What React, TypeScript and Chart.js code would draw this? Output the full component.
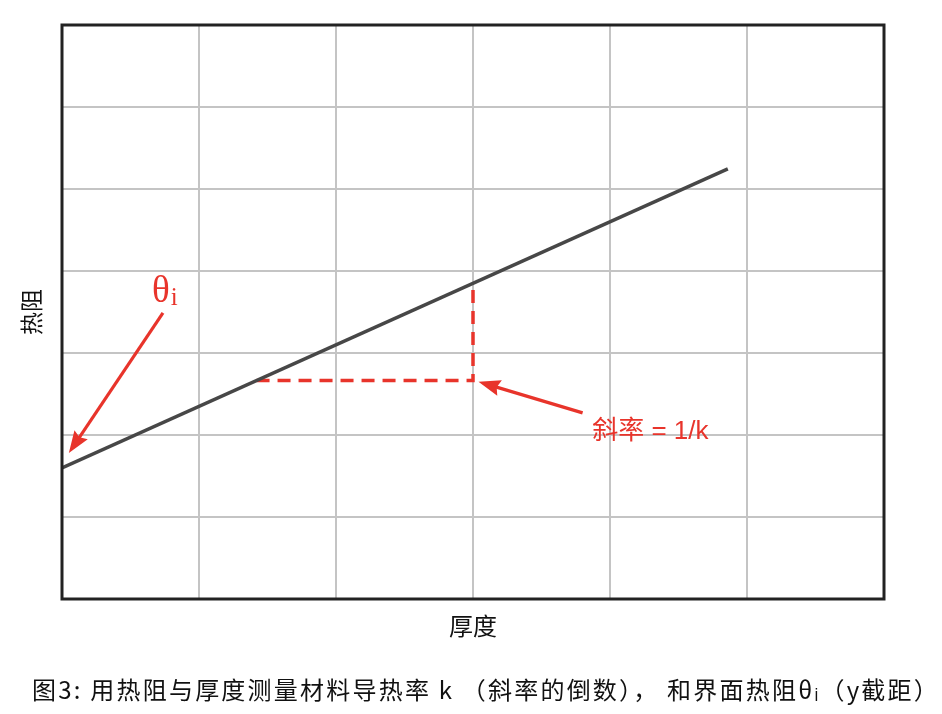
import React, { useEffect, useRef } from "react";
import { Chart, registerables } from "chart.js";

Chart.register(...registerables);

// Axis ranges (grid every 1 unit, no tick labels shown)
const X_MIN = 0, X_MAX = 6;
const Y_MIN = 0, Y_MAX = 7;

// Thermal resistance vs thickness line
const lineX = [0, 4.86];
const lineY = [1.6, 5.245];

// Slope triangle (dashed)
const slopeX = [1.42, 3, 3];
const slopeY = [2.665, 2.665, 3.85];

// Annotation arrows: [fromX, fromY, toX, toY]
const thetaArrow = [0.737, 3.49, 0.05, 1.78];
const slopeArrow = [3.8, 2.27, 3.04, 2.65];

// Annotation labels
const thetaLabelPos = [0.657, 3.62];
const slopeLabelPos = [3.87, 2.04];
const slopeLabel = "斜率 = 1/k";
const xTitle = "厚度";
const yTitle = "热阻";
const caption = "图3: 用热阻与厚度测量材料导热率 k （斜率的倒数）， 和界面热阻θᵢ（y截距）";

const RED = "#e8342b";

function arrow(ctx: CanvasRenderingContext2D, x1: number, y1: number, x2: number, y2: number) {
  const ang = Math.atan2(y2 - y1, x2 - x1);
  const headLen = 22;
  const headW = 8;
  const bx = x2 - headLen * Math.cos(ang);
  const by = y2 - headLen * Math.sin(ang);
  ctx.save();
  ctx.strokeStyle = RED;
  ctx.fillStyle = RED;
  ctx.lineWidth = 3.2;
  ctx.beginPath();
  ctx.moveTo(x1, y1);
  ctx.lineTo(bx + 4 * Math.cos(ang), by + 4 * Math.sin(ang));
  ctx.stroke();
  ctx.beginPath();
  ctx.moveTo(x2, y2);
  ctx.lineTo(bx + headW * Math.sin(ang), by - headW * Math.cos(ang));
  ctx.lineTo(bx + 3 * Math.cos(ang), by + 3 * Math.sin(ang));
  ctx.lineTo(bx - headW * Math.sin(ang), by + headW * Math.cos(ang));
  ctx.closePath();
  ctx.fill();
  ctx.restore();
}

const annotationPlugin = {
  id: "annotations",
  afterDatasetsDraw(chart: any) {
    const { ctx, chartArea, scales } = chart;
    const xs = scales.x, ys = scales.y;
    const px = (v: number) => xs.getPixelForValue(v);
    const py = (v: number) => ys.getPixelForValue(v);

    // frame
    ctx.save();
    ctx.strokeStyle = "#222222";
    ctx.lineWidth = 3;
    ctx.strokeRect(chartArea.left, chartArea.top, chartArea.right - chartArea.left, chartArea.bottom - chartArea.top);
    ctx.restore();

    arrow(ctx, px(thetaArrow[0]), py(thetaArrow[1]), px(thetaArrow[2]), py(thetaArrow[3]));
    arrow(ctx, px(slopeArrow[0]), py(slopeArrow[1]), px(slopeArrow[2]), py(slopeArrow[3]));

    ctx.save();
    ctx.fillStyle = RED;
    ctx.textBaseline = "alphabetic";
    ctx.textAlign = "left";
    ctx.font = '37px "Liberation Serif", "DejaVu Serif", serif';
    const tx = px(thetaLabelPos[0]);
    const ty = py(thetaLabelPos[1]);
    ctx.fillText("θ", tx, ty);
    const tw = ctx.measureText("θ").width;
    ctx.font = '25px "Liberation Serif", "DejaVu Serif", serif';
    ctx.fillText("i", tx + tw + 1, ty + 3);

    ctx.font = '26px "Liberation Sans", "Noto Sans CJK SC", sans-serif';
    ctx.textBaseline = "middle";
    ctx.fillText(slopeLabel, px(slopeLabelPos[0]), py(slopeLabelPos[1]));
    ctx.restore();
  },
  afterDraw(chart: any) {
    const { ctx } = chart;
    ctx.save();
    ctx.fillStyle = "#111111";
    ctx.textBaseline = "middle";
    ctx.textAlign = "left";
    ctx.font = '24px "Noto Sans CJK SC", sans-serif';
    const chars = Array.from(caption).length;
    (ctx as any).letterSpacing = "0px";
    const w0 = ctx.measureText(caption).width;
    const sp = Math.max(0, (906 - w0) / (chars - 1));
    (ctx as any).letterSpacing = sp.toFixed(2) + "px";
    ctx.fillText(caption, 32, 690);
    ctx.restore();
  },
};

export default function App() {
  const ref = useRef<HTMLCanvasElement | null>(null);
  useEffect(() => {
    document.body.style.margin = "0";
    const canvas = ref.current!;
    const chart = new Chart(canvas, {
      type: "scatter",
      data: {
        datasets: [
          {
            label: "热阻",
            data: lineX.map((x, i) => ({ x, y: lineY[i] })),
            showLine: true,
            borderColor: "#474747",
            borderWidth: 3.5,
            pointRadius: 0,
          },
          {
            label: "斜率",
            data: slopeX.map((x, i) => ({ x, y: slopeY[i] })),
            showLine: true,
            borderColor: RED,
            borderWidth: 3.5,
            borderDash: [13, 8],
            pointRadius: 0,
          },
        ],
      },
      options: {
        responsive: false,
        animation: false,
        layout: { padding: { left: 0, top: 25, right: 58, bottom: 73.6 } },
        plugins: { legend: { display: false }, tooltip: { enabled: false } },
        scales: {
          x: {
            type: "linear",
            min: X_MIN,
            max: X_MAX,
            ticks: { display: false, stepSize: 1 },
            grid: { color: "#c4c4c4", lineWidth: 2, drawTicks: false },
            border: { display: false },
            title: {
              display: true,
              text: xTitle,
              color: "#111111",
              font: { size: 24, family: '"Noto Sans CJK SC", sans-serif' },
              padding: { top: 12.6, bottom: 0 },
            },
          },
          y: {
            type: "linear",
            min: Y_MIN,
            max: Y_MAX,
            ticks: { display: false, stepSize: 1 },
            grid: { color: "#c4c4c4", lineWidth: 2, drawTicks: false },
            border: { display: false },
            title: {
              display: true,
              text: yTitle,
              color: "#111111",
              font: { size: 23, family: '"Noto Sans CJK SC", sans-serif' },
              padding: { top: 17.2, bottom: 17.2 },
            },
          },
        },
      },
      plugins: [annotationPlugin],
    });
    return () => chart.destroy();
  }, []);
  return <canvas ref={ref} width={942} height={714} style={{ display: "block" }} />;
}
